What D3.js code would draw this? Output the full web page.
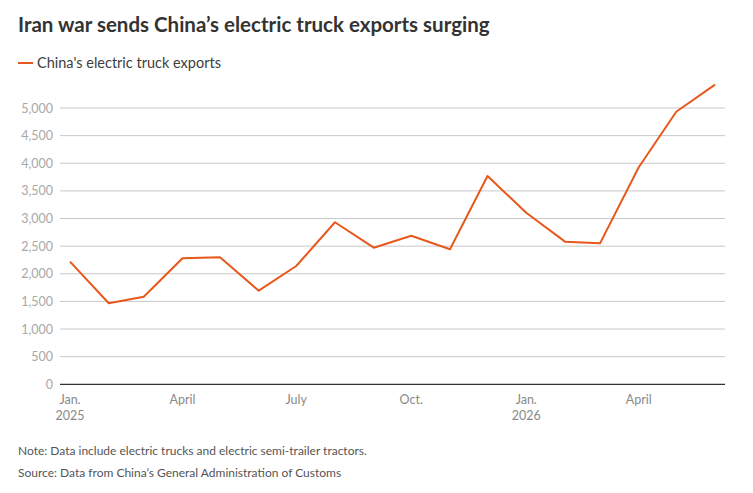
<!DOCTYPE html>
<html>
<head>
<meta charset="utf-8">
<script src="https://cdn.jsdelivr.net/npm/d3@7"></script>
<style>
  body { margin: 0; background: #fff; }
  svg text { font-family: Lato, "Open Sans", sans-serif; }
</style>
</head>
<body>
<div id="chart"></div>
<script>
// monthly exports, Jan 2025 - Jun 2026
var months = ["2025-01","2025-02","2025-03","2025-04","2025-05","2025-06",
              "2025-07","2025-08","2025-09","2025-10","2025-11","2025-12",
              "2026-01","2026-02","2026-03","2026-04","2026-05","2026-06"];
var exports = [2219, 1466, 1585, 2280, 2298, 1694,
               2141, 2932, 2472, 2689, 2443, 3769,
               3105, 2581, 2551, 3927, 4933, 5422];
var yTicks = [0, 500, 1000, 1500, 2000, 2500, 3000, 3500, 4000, 4500, 5000];
var xTicks = ["2025-01","2025-04","2025-07","2025-10","2026-01","2026-04"];
var xTickLabels = [["Jan.", "2025"], ["April"], ["July"], ["Oct."], ["Jan.", "2026"], ["April"]];

var parse = d3.timeParse("%Y-%m");
var data = months.map(function(m, i) { return { date: parse(m), value: exports[i] }; });

var width = 753, height = 493;
var svg = d3.select("#chart").append("svg")
    .attr("width", width)
    .attr("height", height);

var x = d3.scaleTime()
    .domain(d3.extent(data, function(d) { return d.date; }))
    .range([70, 715]);

var y = d3.scaleLinear()
    .domain([0, 5000])
    .range([384.3, 108]);

// title + legend
svg.append("text")
    .attr("x", 18).attr("y", 32)
    .attr("font-size", 20.5).attr("font-weight", 700)
    .attr("fill", "#333")
    .text("Iran war sends China\u2019s electric truck exports surging");

svg.append("line")
    .attr("x1", 18).attr("x2", 33).attr("y1", 63).attr("y2", 63)
    .attr("stroke", "#e8581c").attr("stroke-width", 2);
svg.append("text")
    .attr("x", 37).attr("y", 68)
    .attr("font-size", 14.5).attr("fill", "#404040")
    .text("China's electric truck exports");

// gridlines
svg.append("g").selectAll("line")
    .data(yTicks.filter(function(d) { return d > 0; }))
    .enter().append("line")
    .attr("x1", 60).attr("x2", 725)
    .attr("y1", function(d) { return y(d); })
    .attr("y2", function(d) { return y(d); })
    .attr("stroke", "#c8c8c8").attr("stroke-width", 1);

// y labels
svg.append("g").selectAll("text")
    .data(yTicks)
    .enter().append("text")
    .attr("x", 53)
    .attr("y", function(d) { return y(d) + 4.5; })
    .attr("text-anchor", "end")
    .attr("font-size", 12.5).attr("fill", "#a8a8a8")
    .text(d3.format(","));

// baseline
svg.append("line")
    .attr("x1", 60).attr("x2", 725)
    .attr("y1", y(0)).attr("y2", y(0))
    .attr("stroke", "#333").attr("stroke-width", 1.2);

// x labels
var xg = svg.append("g").selectAll("text")
    .data(xTicks)
    .enter().append("text")
    .attr("x", function(d) { return x(parse(d)); })
    .attr("y", 404)
    .attr("text-anchor", "middle")
    .attr("font-size", 12.5).attr("fill", "#8a8a8a");
xg.each(function(d, i) {
  var t = d3.select(this);
  xTickLabels[i].forEach(function(s, j) {
    t.append("tspan").attr("x", x(parse(d))).attr("dy", j ? 16 : 0).text(s);
  });
});

// line
var line = d3.line()
    .x(function(d) { return x(d.date); })
    .y(function(d) { return y(d.value); });

svg.append("path")
    .datum(data)
    .attr("d", line)
    .attr("fill", "none")
    .attr("stroke", "#e8581c")
    .attr("stroke-width", 2)
    .attr("stroke-linejoin", "round");

// footnotes
svg.append("text")
    .attr("x", 18).attr("y", 455)
    .attr("font-size", 12).attr("fill", "#555")
    .text("Note: Data include electric trucks and electric semi-trailer tractors.");
svg.append("text")
    .attr("x", 18).attr("y", 477)
    .attr("font-size", 12).attr("fill", "#555")
    .text("Source: Data from China\u2019s General Administration of Customs");
</script>
</body>
</html>
